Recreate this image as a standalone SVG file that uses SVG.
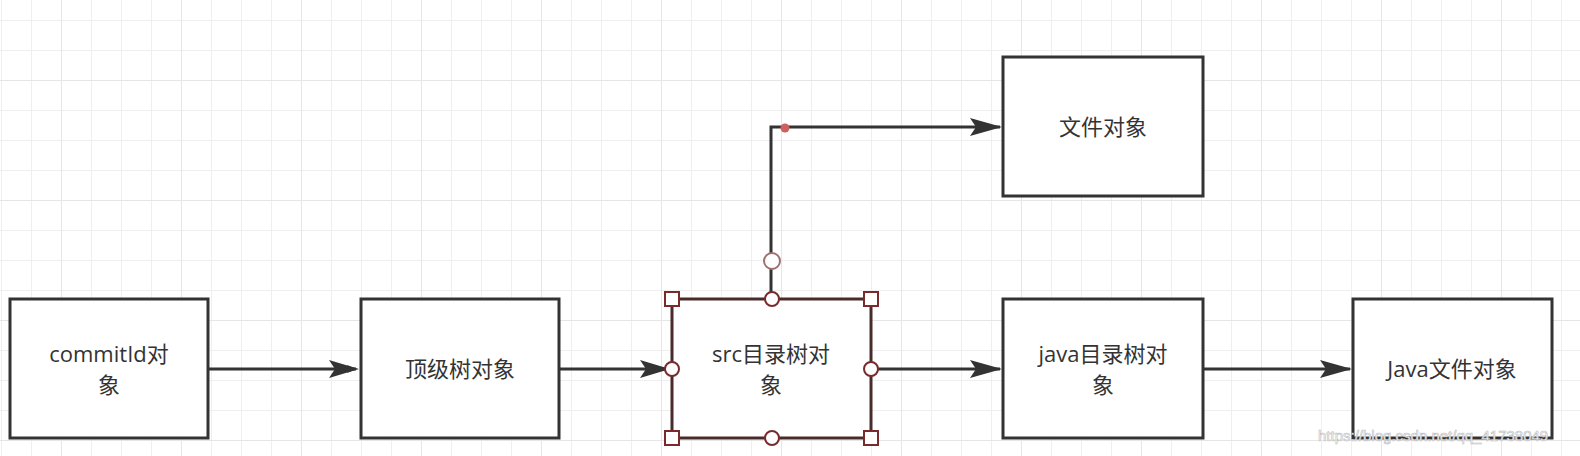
<svg xmlns="http://www.w3.org/2000/svg" width="1580" height="456" viewBox="0 0 1580 456">
<defs>
<pattern id="g" x="1" y="-10" width="30" height="30" patternUnits="userSpaceOnUse"><path d="M0 0V30M0 0H30" stroke="#efefef" stroke-width="2" fill="none"/></pattern>
<pattern id="G" x="61" y="-40" width="120" height="120" patternUnits="userSpaceOnUse"><path d="M0 0V120M0 0H120" stroke="#e6e6e6" stroke-width="2" fill="none"/></pattern>
<marker id="ar" markerWidth="10" markerHeight="8" refX="9" refY="4" orient="auto" markerUnits="userSpaceOnUse" viewBox="0 0 10 8"><path d="M0 0L10 4L0 8L2 4Z" fill="#333"/></marker>
</defs>
<style>
.n{fill:#fff;stroke:#333;stroke-width:3}
.t{font-family:"Open Sans","Noto Sans CJK SC",sans-serif;font-size:22px;fill:#333;text-anchor:middle}
.c{fill:none;stroke:#333;stroke-width:3}
.h{fill:#fff;stroke:#7a2a2a;stroke-width:2}
</style>
<rect width="1580" height="456" fill="#fff"/>
<rect width="1580" height="456" fill="url(#g)"/>
<rect width="1580" height="456" fill="url(#G)"/>
<g id="connectors">
<path class="c" d="M208 369H356" marker-end="url(#ar)" style="stroke-width:3"/>
<path class="c" d="M559 369H669"/>
<path d="M640 360L670 369L640 378L646 369Z" fill="#333"/>
<path class="c" d="M871 369H1000"/>
<path d="M970 360L1002 369L970 378L976 369Z" fill="#333"/>
<path class="c" d="M1203 369H1350"/>
<path d="M1320 360L1352 369L1320 378L1326 369Z" fill="#333"/>
<path d="M329 360L359 369L329 378L335 369Z" fill="#333"/>
<path class="c" d="M771 299V127H1000"/>
<path d="M970 118L1002 127L970 136L976 127Z" fill="#333"/>
<circle cx="785" cy="128" r="4.5" fill="#d06060"/>
</g>
<g id="A"><rect class="n" x="10" y="299" width="198" height="139"/><text class="t" x="109" y="362">commitId对</text><text class="t" x="109" y="393">象</text></g>
<g id="B"><rect class="n" x="361" y="299" width="198" height="139"/><text class="t" x="460" y="377">顶级树对象</text></g>
<g id="C"><rect class="n" x="672" y="299" width="199" height="139" style="stroke:#4a2b2b"/><text class="t" x="771" y="362">src目录树对</text><text class="t" x="771" y="393">象</text></g>
<g id="D"><rect class="n" x="1003" y="299" width="200" height="139"/><text class="t" x="1103" y="362">java目录树对</text><text class="t" x="1103" y="393">象</text></g>
<g id="E"><rect class="n" x="1353" y="299" width="199" height="139"/><text class="t" x="1452" y="377">Java文件对象</text></g>
<g id="F"><rect class="n" x="1003" y="57" width="200" height="139"/><text class="t" x="1103" y="135">文件对象</text></g>
<g id="handles">
<circle class="h" cx="772" cy="261" r="8" style="stroke:#a07070"/>
<rect class="h" x="665" y="292" width="14" height="14"/><rect class="h" x="864" y="292" width="14" height="14"/>
<rect class="h" x="665" y="431" width="14" height="14"/><rect class="h" x="864" y="431" width="14" height="14"/>
<circle class="h" cx="772" cy="299" r="7"/><circle class="h" cx="772" cy="438" r="7"/>
<circle class="h" cx="672" cy="369" r="7"/><circle class="h" cx="871" cy="369" r="7"/>
</g>
<text x="1318" y="441" style="font-family:'Liberation Sans',sans-serif;font-size:15px;fill:#fff;stroke:#bbb;stroke-width:0.6">https://blog.csdn.net/qq_41738049</text>
</svg>
